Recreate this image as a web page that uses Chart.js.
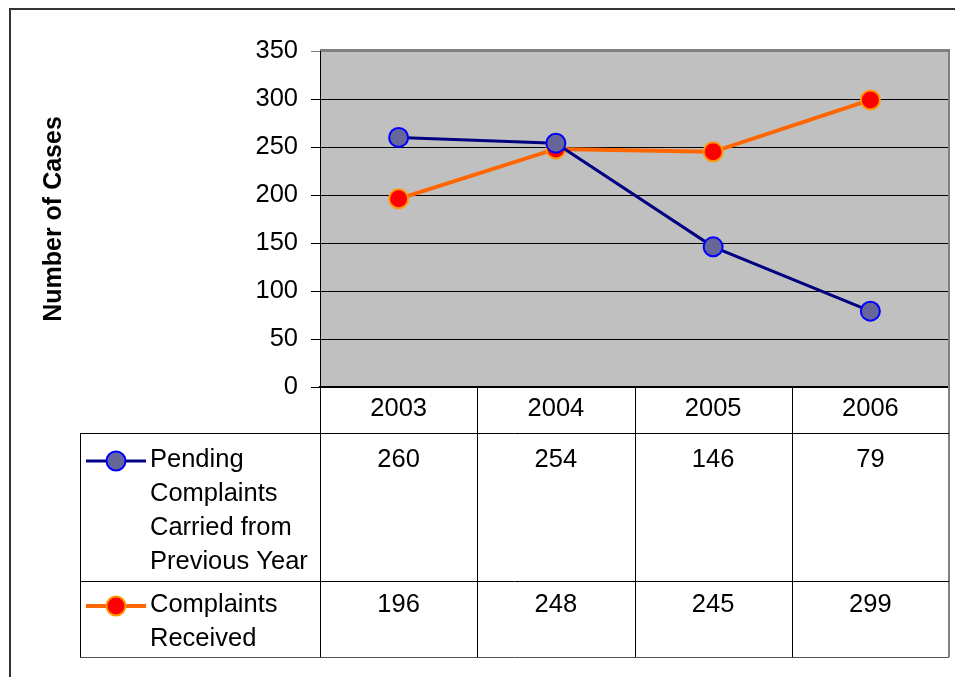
<!DOCTYPE html>
<html>
<head>
<meta charset="utf-8">
<script src="https://cdn.jsdelivr.net/npm/chart.js@4.4.0/dist/chart.umd.min.js"></script>
<style>
  html, body { margin: 0; padding: 0; background: #fff; }
  canvas { display: block; }
</style>
</head>
<body>
<canvas id="cases" width="955" height="677"></canvas>
<script>
// data
var years = ['2003', '2004', '2005', '2006'];
var pending = [260, 254, 146, 79];
var received = [196, 248, 245, 299];
var pendingLabel = ['Pending', 'Complaints', 'Carried from', 'Previous Year'];
var receivedLabel = ['Complaints', 'Received'];

var FONT = "'Liberation Sans', Arial, sans-serif";
var SIZE = 25.5;

// draws the grey plot, the frame and the data table under the chart
var tablePlugin = {
    id: 'dataTable',
    beforeDraw: function (chart) {
        var ctx = chart.ctx, a = chart.chartArea;
        ctx.save();
        ctx.fillStyle = '#fff';
        ctx.fillRect(0, 0, chart.width, chart.height);
        ctx.strokeStyle = '#333';
        ctx.lineWidth = 2;
        ctx.strokeRect(10, 9, 1000, 1000);
        ctx.fillStyle = '#c0c0c0';
        ctx.fillRect(a.left, a.top, a.right - a.left, a.bottom - a.top);
        ctx.restore();
    },
    afterDraw: function (chart) {
        var ctx = chart.ctx, a = chart.chartArea, x = chart.scales.x;
        var rowTop = 433, rowMid = 581, rowBot = 657, legLeft = 80;
        ctx.save();

        // plot border top/right (grey)
        ctx.strokeStyle = '#808080';
        ctx.lineWidth = 2;
        ctx.beginPath();
        ctx.moveTo(a.left, a.top - 1);
        ctx.lineTo(a.right, a.top - 1);
        ctx.lineTo(a.right, rowBot);
        ctx.stroke();

        // table lines
        ctx.strokeStyle = '#000';
        ctx.lineWidth = 1;
        ctx.beginPath();
        [rowTop, rowMid].forEach(function (y) {
            ctx.moveTo(legLeft, y + 0.5);
            ctx.lineTo(a.right, y + 0.5);
        });
        ctx.moveTo(legLeft + 0.5, rowTop);
        ctx.lineTo(legLeft + 0.5, rowBot);
        var colW = (a.right - a.left) / years.length;
        for (var i = 0; i < years.length; i++) {
            var cx = Math.round(a.left + colW * i) + 0.5;
            ctx.moveTo(cx, a.bottom);
            ctx.lineTo(cx, rowBot);
        }
        ctx.stroke();
        ctx.strokeStyle = '#555';
        ctx.beginPath();
        ctx.moveTo(legLeft, rowBot + 0.5);
        ctx.lineTo(a.right, rowBot + 0.5);
        ctx.stroke();

        // values
        ctx.fillStyle = '#000';
        ctx.font = SIZE + 'px ' + FONT;
        ctx.textAlign = 'center';
        ctx.textBaseline = 'alphabetic';
        years.forEach(function (yr, i) {
            var px = x.getPixelForValue(i);
            ctx.fillText(String(pending[i]), px, 467);
            ctx.fillText(String(received[i]), px, 612);
        });

        // legend keys + names
        ctx.textAlign = 'left';
        pendingLabel.forEach(function (t, i) { ctx.fillText(t, 150, 467 + i * 34); });
        receivedLabel.forEach(function (t, i) { ctx.fillText(t, 150, 612 + i * 34); });

        [[0, 461], [1, 606]].forEach(function (k) {
            var ds = chart.data.datasets[k[0]], y = k[1];
            ctx.strokeStyle = ds.borderColor;
            ctx.lineWidth = ds.borderWidth;
            ctx.beginPath();
            ctx.moveTo(86, y);
            ctx.lineTo(146, y);
            ctx.stroke();
            ctx.beginPath();
            ctx.arc(116, y, ds.pointRadius, 0, Math.PI * 2);
            ctx.fillStyle = ds.pointBackgroundColor;
            ctx.fill();
            ctx.lineWidth = ds.pointBorderWidth;
            ctx.strokeStyle = ds.pointBorderColor;
            ctx.stroke();
        });
        ctx.restore();
    }
};

var chart = new Chart(document.getElementById('cases'), {
    type: 'line',
    data: {
        labels: years,
        datasets: [{
            label: pendingLabel.join(' '),
            data: pending,
            borderColor: '#000080',
            borderWidth: 3,
            pointRadius: 9.5,
            pointBackgroundColor: '#666699',
            pointBorderColor: '#0000ff',
            pointBorderWidth: 2,
            tension: 0
        }, {
            label: receivedLabel.join(' '),
            data: received,
            borderColor: '#ff6600',
            borderWidth: 4,
            pointRadius: 9.5,
            pointBackgroundColor: '#ff0000',
            pointBorderColor: '#ff9900',
            pointBorderWidth: 2,
            tension: 0
        }]
    },
    options: {
        responsive: false,
        animation: false,
        devicePixelRatio: 1,
        layout: { autoPadding: false, padding: { left: 0, top: 51, right: 6, bottom: 0 } },
        plugins: { legend: false, tooltip: false, title: false },
        scales: {
            x: {
                offset: true,
                afterFit: function (s) { s.height = 290; },
                grid: { display: false, drawTicks: false },
                border: { color: '#000', width: 2 },
                ticks: { color: '#000', padding: 7, font: { family: FONT, size: SIZE } }
            },
            y: {
                min: 0,
                max: 350,
                afterFit: function (s) { s.width = 320; },
                ticks: { stepSize: 50, color: '#000', padding: 13, font: { family: FONT, size: SIZE } },
                grid: {
                    color: function (c) { return c.tick && c.tick.value === 350 ? '#808080' : '#000'; },
                    tickLength: 9,
                    lineWidth: 1
                },
                border: { color: '#000', width: 1 },
                title: {
                    display: true,
                    text: 'Number of Cases',
                    color: '#000',
                    font: { family: FONT, size: 25, weight: 'bold' },
                    padding: { top: 39, bottom: 0 }
                }
            }
        }
    },
    plugins: [tablePlugin]
});
</script>
</body>
</html>
